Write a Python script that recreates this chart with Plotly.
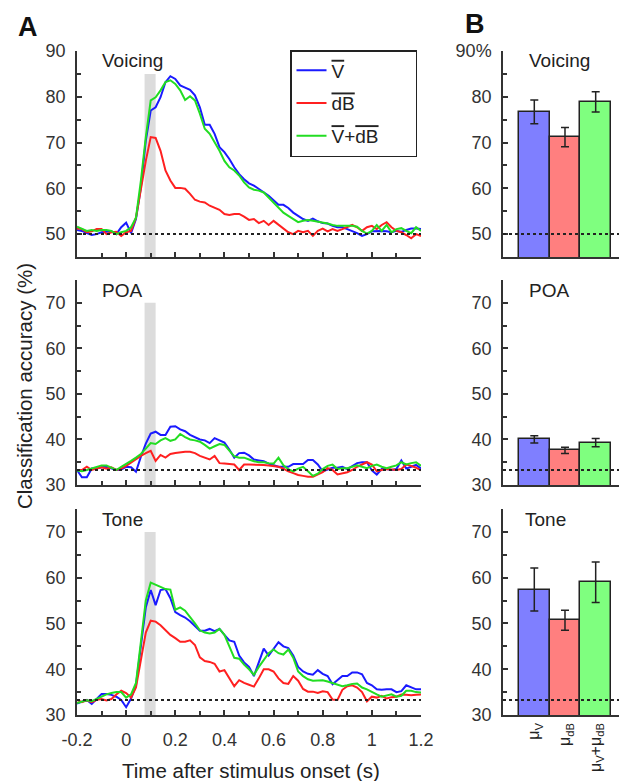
import plotly.graph_objects as go

# ---------------- data ----------------
time_s = [-0.2, -0.18, -0.16, -0.14, -0.12, -0.1, -0.08, -0.06, -0.04, -0.02,
          0.0, 0.02, 0.04, 0.06, 0.08, 0.1, 0.12, 0.14, 0.16, 0.18,
          0.2, 0.22, 0.24, 0.26, 0.28, 0.3, 0.32, 0.34, 0.36, 0.38,
          0.4, 0.42, 0.44, 0.46, 0.48, 0.5, 0.52, 0.54, 0.56, 0.58,
          0.6, 0.62, 0.64, 0.66, 0.68, 0.7, 0.72, 0.74, 0.76, 0.78,
          0.8, 0.82, 0.84, 0.86, 0.88, 0.9, 0.92, 0.94, 0.96, 0.98,
          1.0, 1.02, 1.04, 1.06, 1.08, 1.1, 1.12, 1.14, 1.16, 1.18, 1.2]

voicing_v = [50.9, 50.7, 50.2, 49.8, 50.0, 50.4, 50.5, 50.6, 50.0, 51.5,
             52.5, 50.2, 53.3, 60.2, 70.4, 77.0, 77.7, 79.9, 83.2, 84.5,
             83.9, 82.5, 82.0, 81.5, 80.3, 77.7, 73.9, 73.9, 71.9, 69.0,
             67.9, 66.4, 64.6, 63.1, 62.0, 61.1, 60.6, 59.9, 59.1, 58.4,
             57.4, 56.4, 56.4, 55.7, 54.7, 54.0, 53.3, 52.9, 53.4, 52.8,
             52.4, 52.3, 51.8, 51.5, 51.5, 51.1, 50.7, 50.2, 49.6, 50.0,
             50.6, 50.7, 50.7, 50.6, 50.4, 50.7, 50.5, 50.9, 51.2, 51.2, 51.1]
voicing_db = [51.2, 51.1, 50.4, 50.6, 51.1, 51.1, 50.0, 50.4, 50.5, 49.6,
              50.4, 50.7, 53.6, 60.2, 66.0, 71.2, 71.0, 68.2, 63.9, 61.7,
              60.1, 60.1, 59.9, 58.8, 57.5, 57.1, 56.9, 56.2, 55.7, 55.3,
              54.4, 54.2, 54.4, 54.4, 53.8, 53.1, 53.3, 52.4, 52.9, 52.0,
              52.9, 52.0, 51.2, 50.4, 50.0, 50.7, 50.4, 50.7, 49.6, 50.7,
              51.2, 50.6, 51.1, 50.7, 51.1, 51.5, 52.0, 51.5, 50.7, 51.5,
              51.8, 51.1, 52.0, 52.6, 51.5, 50.7, 50.4, 49.8, 49.1, 50.0, 49.6]
voicing_both = [51.6, 51.2, 50.7, 50.9, 50.7, 50.9, 50.9, 50.7, 50.0, 50.4,
                50.7, 51.5, 53.6, 61.7, 71.2, 79.2, 79.9, 81.4, 83.2, 83.6,
                82.8, 81.4, 79.3, 80.1, 79.2, 76.3, 73.0, 71.9, 70.1, 68.2,
                66.0, 64.6, 63.9, 62.8, 61.3, 60.2, 59.7, 59.5, 59.1, 58.0,
                56.9, 55.8, 54.7, 54.0, 53.3, 52.6, 52.9, 53.1, 52.9, 52.7,
                52.6, 52.3, 52.0, 51.8, 51.8, 51.8, 51.8, 51.6, 50.7, 50.1,
                50.7, 52.0, 50.7, 52.0, 50.4, 51.1, 51.3, 50.7, 50.2, 51.5, 50.7]

poa_v = [33.3, 31.7, 31.7, 33.6, 33.6, 33.9, 34.0, 33.6, 33.3, 33.4,
         34.0, 33.9, 32.9, 36.2, 39.1, 41.3, 41.7, 41.0, 41.0, 42.8,
         42.9, 42.2, 41.8, 41.0, 40.5, 40.0, 39.8, 39.2, 40.3, 39.8,
         39.3, 37.8, 36.0, 37.0, 37.1, 36.5, 35.6, 35.4, 35.2, 34.7,
         34.3, 34.0, 34.0, 34.0, 34.6, 34.6, 34.6, 35.5, 35.5, 34.5,
         33.0, 33.4, 33.8, 33.8, 34.0, 33.5, 34.2, 34.8, 35.0, 35.0,
         33.2, 32.3, 33.5, 33.5, 33.3, 33.5, 35.4, 33.6, 34.0, 34.4, 33.6]
poa_db = [33.3, 33.3, 34.0, 33.3, 33.6, 33.9, 33.6, 33.9, 33.3, 33.6,
          34.2, 35.0, 35.8, 36.4, 37.0, 37.5, 35.3, 36.6, 36.0, 36.8,
          37.0, 37.2, 37.3, 37.3, 37.0, 36.4, 36.0, 35.6, 36.4, 34.8,
          34.7, 34.6, 34.5, 33.3, 34.5, 34.5, 34.5, 34.4, 34.4, 34.3,
          34.2, 34.0, 33.6, 33.0, 32.6, 32.2, 32.0, 31.8, 31.8, 32.3,
          32.8, 33.7, 33.3, 32.3, 32.5, 32.8, 33.3, 34.0, 34.5, 35.0,
          34.5, 33.0, 33.3, 33.5, 33.4, 33.3, 33.5, 34.5, 34.2, 33.8, 33.2]
poa_both = [33.2, 33.0, 33.3, 33.6, 34.0, 34.3, 34.3, 33.8, 33.3, 34.0,
            34.6, 35.3, 36.0, 36.8, 38.0, 39.2, 39.0, 39.8, 40.3, 39.7,
            40.0, 41.2, 40.5, 40.0, 39.8, 39.5, 38.8, 38.0, 38.5, 39.0,
            38.8, 37.5, 36.3, 36.0, 36.0, 35.6, 35.2, 35.0, 35.0, 34.8,
            34.7, 36.0, 34.3, 33.5, 33.0, 33.6, 34.0, 33.0, 32.0, 32.5,
            33.5, 34.2, 34.5, 33.5, 33.7, 33.7, 34.0, 34.3, 34.0, 33.7,
            34.2, 34.5, 34.0, 33.7, 34.0, 34.3, 35.0, 34.5, 34.8, 35.0, 34.2]

tone_v = [32.5, 32.9, 33.3, 32.4, 33.6, 34.6, 34.6, 34.4, 34.0, 33.3,
          31.7, 33.6, 36.5, 44.5, 53.5, 57.3, 54.0, 57.3, 57.5, 55.5,
          52.5, 51.8, 51.3, 50.5, 49.5, 48.4, 48.4, 48.8, 48.3, 48.8,
          47.5, 46.3, 46.0, 43.0, 41.5, 40.5, 38.5, 41.5, 44.5, 43.0,
          44.5, 45.9, 45.0, 44.6, 43.0, 40.5, 39.5, 39.0, 38.8, 39.8,
          39.0, 38.5, 36.7, 37.5, 38.5, 38.5, 39.3, 39.3, 38.9, 37.0,
          36.5, 35.6, 35.5, 35.6, 35.6, 35.0, 35.2, 36.5, 36.0, 35.6, 35.6]
tone_db = [33.3, 32.8, 33.2, 32.8, 33.3, 33.5, 33.2, 33.5, 34.5, 35.3,
           34.8, 33.8, 36.0, 42.0, 48.0, 50.6, 50.4, 49.6, 48.5, 47.5,
           46.8, 46.0, 46.0, 46.3, 45.3, 42.6, 41.8, 41.6, 41.2, 39.5,
           39.8, 38.0, 36.3, 37.6, 37.0, 36.6, 36.2, 38.0, 40.0, 40.0,
           39.5, 38.0, 37.0, 36.8, 38.5, 37.5, 35.7, 35.1, 35.1, 34.8,
           35.2, 35.0, 33.4, 33.3, 35.5, 36.3, 36.5, 36.0, 35.0, 33.0,
           34.0, 33.8, 34.2, 33.6, 33.9, 34.0, 34.5, 34.4, 34.3, 34.4, 34.5]
tone_both = [32.6, 32.9, 33.2, 33.0, 33.5, 34.0, 34.5, 34.8, 35.0, 35.0,
             33.8, 34.5, 37.0, 46.0, 55.0, 58.9, 58.5, 58.0, 57.5, 57.4,
             53.0, 53.5, 52.8, 51.5, 50.0, 48.5, 48.0, 47.8, 48.0, 48.8,
             47.5, 45.0, 42.5, 42.3, 41.0, 40.0, 38.8, 40.5, 42.0, 43.5,
             44.3, 43.5, 43.2, 44.3, 42.5, 39.5, 38.5, 37.8, 37.5, 37.5,
             37.6, 37.3, 37.0, 36.6, 36.3, 36.5, 36.8, 36.9, 36.0, 35.6,
             35.0, 34.5, 34.0, 34.3, 34.5, 34.0, 34.2, 35.3, 35.3, 35.0, 34.9]

# mean accuracy over the analysis window (panel B)
bar_labels = ["μ<sub>V</sub>", "μ<sub>dB</sub>", "μ<sub>V</sub>+μ<sub>dB</sub>"]
voicing_mean = [76.7, 71.2, 78.9]
voicing_err = [2.6, 2.1, 2.2]
poa_mean = [40.0, 37.6, 39.3]
poa_err = [0.8, 0.7, 0.9]
tone_mean = [57.4, 50.7, 59.0]
tone_err = [4.7, 2.2, 4.4]

chance = {"Voicing": 50.0, "POA": 33.3, "Tone": 33.3}
window = [0.075, 0.12]          # shaded analysis window (s)
time_ticks = [-0.2, 0, 0.2, 0.4, 0.6, 0.8, 1, 1.2]
time_tick_text = ["-0.2", "0", "0.2", "0.4", "0.6", "0.8", "1", "1.2"]
voicing_ticks = [50, 60, 70, 80, 90]
poa_ticks = [30, 40, 50, 60, 70]
tone_ticks = [30, 40, 50, 60, 70]

# ---------------- style ----------------
FONT = "Liberation Sans, Arial, sans-serif"
AX = "#333333"
LINE_COLORS = ["#1a1aff", "#ff2020", "#22dd22"]
BAR_COLORS = ["#7f7fff", "#ff7f7f", "#7fff7f"]
PAD = "\u00a0" * 6      # widens the legend box on the right
legend_names = [
    "<span style='text-decoration:overline'>V</span>",
    "<span style='text-decoration:overline'>dB</span>",
    "<span style='text-decoration:overline'>V</span>+"
    "<span style='text-decoration:overline'>dB</span>" + PAD,
]

W, H = 619, 781
left_x = [77 / W, 421 / W]
right_x = [503 / W, 1.0]
rows_px = [(51, 257), (280, 485), (509, 715)]
rows = [[1 - b / H, 1 - t / H] for t, b in rows_px]

panels = [
    ("Voicing", [voicing_v, voicing_db, voicing_both], voicing_mean, voicing_err,
     [45, 90], 85, voicing_ticks),
    ("POA", [poa_v, poa_db, poa_both], poa_mean, poa_err, [30, 75], 70, poa_ticks),
    ("Tone", [tone_v, tone_db, tone_both], tone_mean, tone_err, [30, 75], 70, tone_ticks),
]

fig = go.Figure()
layout = dict(
    width=W, height=H,
    margin=dict(l=0, r=0, t=0, b=0, autoexpand=False),
    paper_bgcolor="white", plot_bgcolor="white",
    font=dict(family=FONT, size=18, color="#222"),
    showlegend=True,
    legend=dict(x=290 / W, y=1 - 50 / H, xanchor="left", yanchor="top",
                bordercolor="#222", borderwidth=1.5, bgcolor="white",
                font=dict(family=FONT, size=19, color="#222"),
                tracegroupgap=5, itemwidth=30),
    bargap=0,
)

shapes = []
annotations = []

for i, (name, series, means, errs, yr, band_top, ytv) in enumerate(panels):
    xl = i * 2 + 1          # left (time course) axis index
    xr = i * 2 + 2          # right (bar) axis index
    sx_l = "" if xl == 1 else str(xl)
    sx_r = str(xr)

    for j, ys in enumerate(series):
        fig.add_trace(go.Scatter(
            x=time_s, y=ys, mode="lines",
            line=dict(color=LINE_COLORS[j], width=2),
            name=legend_names[j], showlegend=(i == 0),
            legendgroup="g%d" % j,
            xaxis="x" + sx_l, yaxis="y" + sx_l))

    fig.add_trace(go.Bar(
        x=[0, 1, 2], y=means, width=1,
        marker=dict(color=BAR_COLORS, line=dict(color="#222", width=1.5)),
        error_y=dict(type="data", array=errs, color="#222", thickness=1.5, width=4),
        showlegend=False, xaxis="x" + sx_r, yaxis="y" + sx_r))

    last = i == 2
    layout["xaxis" + sx_l] = dict(
        domain=left_x, anchor="y" + sx_l, range=[-0.2, 1.2], automargin=False,
        showline=True, linecolor=AX, linewidth=1.5, mirror=False,
        showgrid=False, zeroline=False,
        ticks="inside", ticklen=5, tickwidth=1.5, tickcolor=AX,
        tickvals=time_ticks, ticktext=time_tick_text,
        showticklabels=last, ticklabelstandoff=8,
        tickfont=dict(family=FONT, size=18, color="#333"),
        minor=dict(ticks="inside", dtick=0.1, tick0=0, ticklen=4,
                   tickwidth=1.5, tickcolor=AX),
    )
    yaxis_common = dict(
        range=yr, automargin=False, showline=True, linecolor=AX, linewidth=1.5,
        showgrid=False, zeroline=False,
        ticks="inside", ticklen=5, tickwidth=1.5, tickcolor=AX,
        tickvals=ytv, ticklabelstandoff=6,
        tickfont=dict(family=FONT, size=18, color="#333"),
        minor=dict(ticks="inside", dtick=5, tick0=0, ticklen=4,
                   tickwidth=1.5, tickcolor=AX),
    )
    layout["yaxis" + sx_l] = dict(yaxis_common, domain=rows[i], anchor="x" + sx_l,
                                  ticktext=[str(v) for v in ytv])
    right_text = [str(v) for v in ytv]
    if i == 0:
        right_text[-1] = right_text[-1] + "%"
    layout["yaxis" + sx_r] = dict(yaxis_common, domain=rows[i], anchor="x" + sx_r,
                                  ticktext=right_text)
    layout["xaxis" + sx_r] = dict(
        domain=right_x, anchor="y" + sx_r, range=[-1.02, 2.76], automargin=False,
        showline=True, linecolor=AX, linewidth=1.5,
        showgrid=False, zeroline=False, ticks="",
        tickvals=[0, 1, 2], ticktext=bar_labels, tickangle=-90,
        showticklabels=last,
        tickfont=dict(family=FONT, size=16, color="#222"),
    )

    # stimulus window shading
    shapes.append(dict(type="rect", xref="x" + sx_l, yref="y" + sx_l,
                       x0=window[0], x1=window[1], y0=yr[0], y1=band_top,
                       fillcolor="#dcdcdc", line=dict(width=0), layer="below"))
    # chance level
    shapes.append(dict(type="line", xref="x" + sx_l, yref="y" + sx_l,
                       x0=-0.2, x1=1.2, y0=chance[name], y1=chance[name],
                       line=dict(color="#222", width=2, dash="dot"), layer="above"))
    shapes.append(dict(type="line", xref="x" + sx_r + " domain", yref="y" + sx_r,
                       x0=0, x1=1, y0=chance[name], y1=chance[name],
                       line=dict(color="#222", width=2, dash="dot"), layer="above"))

    # panel titles
    title_x_right = (523 - 503) / 116 if name == "Tone" else (527 - 503) / 116
    annotations.append(dict(text=name, xref="x" + sx_l + " domain", yref="paper",
                            x=(100 - 77) / 344, y=1 - (rows_px[i][0] + 10) / H,
                            xanchor="left", yanchor="middle", showarrow=False,
                            font=dict(family=FONT, size=19, color="#222")))
    annotations.append(dict(text=name, xref="x" + sx_r + " domain", yref="paper",
                            x=title_x_right, y=1 - (rows_px[i][0] + 10) / H,
                            xanchor="left", yanchor="middle", showarrow=False,
                            font=dict(family=FONT, size=19, color="#222")))

annotations += [
    dict(text="<b>A</b>", xref="paper", yref="paper", x=28 / W, y=1 - 27 / H,
         xanchor="center", yanchor="middle",
         showarrow=False, font=dict(family=FONT, size=27, color="#111")),
    dict(text="<b>B</b>", xref="paper", yref="paper", x=475 / W, y=1 - 24 / H,
         xanchor="center", yanchor="middle",
         showarrow=False, font=dict(family=FONT, size=27, color="#111")),
    dict(text="Time after stimulus onset (s)", xref="paper", yref="paper",
         x=251 / W, y=1 - 770 / H, xanchor="center", yanchor="middle",
         showarrow=False, font=dict(family=FONT, size=20.5, color="#222")),
    dict(text="Classification accuracy (%)", xref="paper", yref="paper",
         x=25 / W, y=1 - 386 / H, xanchor="center", yanchor="middle",
         showarrow=False, textangle=-90,
         font=dict(family=FONT, size=20.5, color="#222")),
]

layout["shapes"] = shapes
layout["annotations"] = annotations
fig.update_layout(**layout)
fig.write_html("out.html")
